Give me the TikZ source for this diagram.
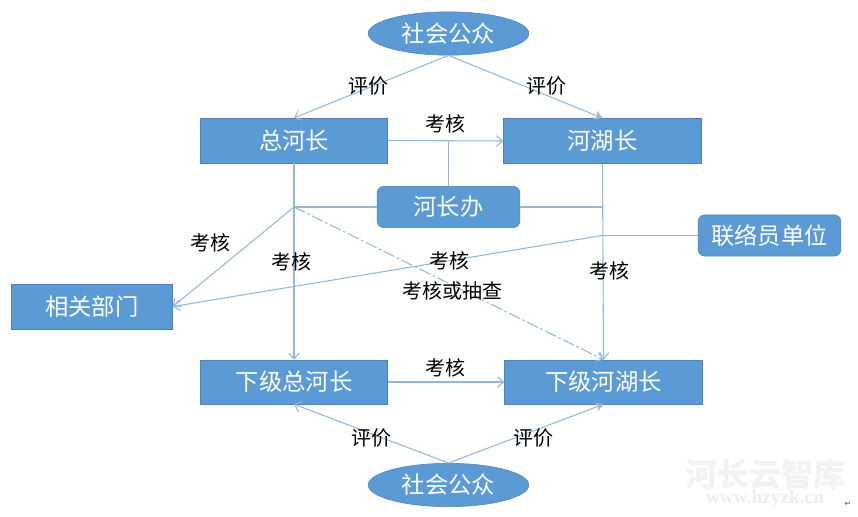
\documentclass[tikz,border=0pt]{standalone}
\usepackage{fontspec}
\setmainfont{Noto Sans CJK SC}
\newfontfamily\symfont{DejaVu Sans}
\newfontfamily\wmfont{Liberation Serif}
\usetikzlibrary{arrows.meta,shapes.geometric}
\definecolor{boxblue}{HTML}{5B9BD5}
\definecolor{boxedge}{HTML}{4F81BD}
\definecolor{linkblue}{HTML}{94B8DC}
\tikzset{
box/.style={fill=boxblue, draw=boxedge, line width=0.4pt, text=white, inner sep=0pt, font=\fontsize{17.5}{17.5}\selectfont},
oval/.style={box, ellipse, minimum width=120.5pt, minimum height=32.5pt},
office/.style={box, rounded corners=5pt, minimum width=107pt, minimum height=31pt},
tag/.style={inner sep=0pt, text=black, font=\fontsize{15}{15}\selectfont},
link/.style={draw=linkblue, line width=0.8pt},
arrow/.style={link, -{Straight Barb[length=4.5pt,width=8pt]}},
solidarrow/.style={link, -{Stealth[length=6pt,width=7pt]}},
}
\begin{document}
\begin{tikzpicture}[x=0.75pt, y=-0.75pt]
\useasboundingbox (0,0) rectangle (858,517);
\node[oval] (gongzhongtop) at (448.5,33.5) {社会公众};
\node[box, minimum width=140.5pt, minimum height=33.5pt] (zonghezhang) at (294,140.5) {总河长};
\node[box, minimum width=148.5pt, minimum height=34pt] (hehuzhang) at (602.5,141) {河湖长};
\node[office] (hezhangban) at (448.5,207) {河长办};
\node[office] (lianluoyuan) at (769.5,235.5) {联络员单位};
\node[box, minimum width=121pt, minimum height=33.5pt] (bumen) at (92,306.5) {相关部门};
\node[box, minimum width=140.5pt, minimum height=33pt] (xiajizong) at (294,382) {下级总河长};
\node[box, minimum width=148.5pt, minimum height=33pt] (xiajihehu) at (603.5,382) {下级河湖长};
\node[oval] (gongzhongbot) at (448.5,485) {社会公众};
\coordinate (banup) at (hezhangban.north |- zonghezhang.east);
\coordinate (hubleft) at (294,207);
\coordinate (hubright) at (602,207);
\coordinate (hublink) at (602,235.5);
% upper level
\draw[arrow] (gongzhongtop.south) -- (zonghezhang.north);
\draw[solidarrow] (gongzhongtop.south) -- (hehuzhang.north);
\draw[arrow] (zonghezhang.east) -- (hehuzhang.west);
\draw[link] (hezhangban.north) -- (banup);
\draw[link] (hezhangban.west) -- (hubleft);
\draw[link] (hezhangban.east) -- (hubright);
% down to lower level
\draw[arrow] (zonghezhang.south) -- (xiajizong.north);
\draw[arrow] (hehuzhang.south) -- (xiajihehu.north);
\draw[arrow] (hubleft) -- (bumen.east);
\draw[link, dash pattern=on 9pt off 2pt on 2pt off 2pt, -{Straight Barb[length=4.5pt,width=8pt]}] (hubleft) -- (xiajihehu.north);
\draw[link] (lianluoyuan.west) -- (hublink);
\draw[arrow] (hublink) -- (bumen.east);
\draw[arrow] (xiajizong.east) -- (xiajihehu.west);
\draw[arrow] (gongzhongbot.north) -- (xiajizong.south);
\draw[solidarrow] (gongzhongbot.north) -- (xiajihehu.south);
% labels
\node[tag] (pjtl) at (368,86) {评价};
\node[tag] (pjtr) at (546,86) {评价};
\node[tag] (khtop) at (445.5,124) {考核};
\node[tag] (khbm) at (210,243) {考核};
\node[tag] (khzong) at (291.5,262) {考核};
\node[tag] (khlink) at (449.5,261) {考核};
\node[tag] (khcc) at (452.5,290.5) {考核或抽查};
\node[tag] (khhu) at (609,270.5) {考核};
\node[tag] (khlow) at (445,368) {考核};
\node[tag] (pjbl) at (371,437.5) {评价};
\node[tag] (pjbr) at (533,437.5) {评价};
% watermark
\node[inner sep=0pt, text=black!5, font=\fontsize{24}{24}\selectfont\bfseries] (wmname) at (765,474) {河长云智库};
\node[inner sep=0pt, text=black!7, font=\wmfont\fontsize{14.5}{14.5}\selectfont\bfseries] (wmurl) at (765,499) {www.hzyzk.cn};
\node[inner sep=0pt, text=black!65, font=\symfont\fontsize{6}{6}\selectfont] (retmark) at (848,504) {↵};
\end{tikzpicture}
\end{document}
